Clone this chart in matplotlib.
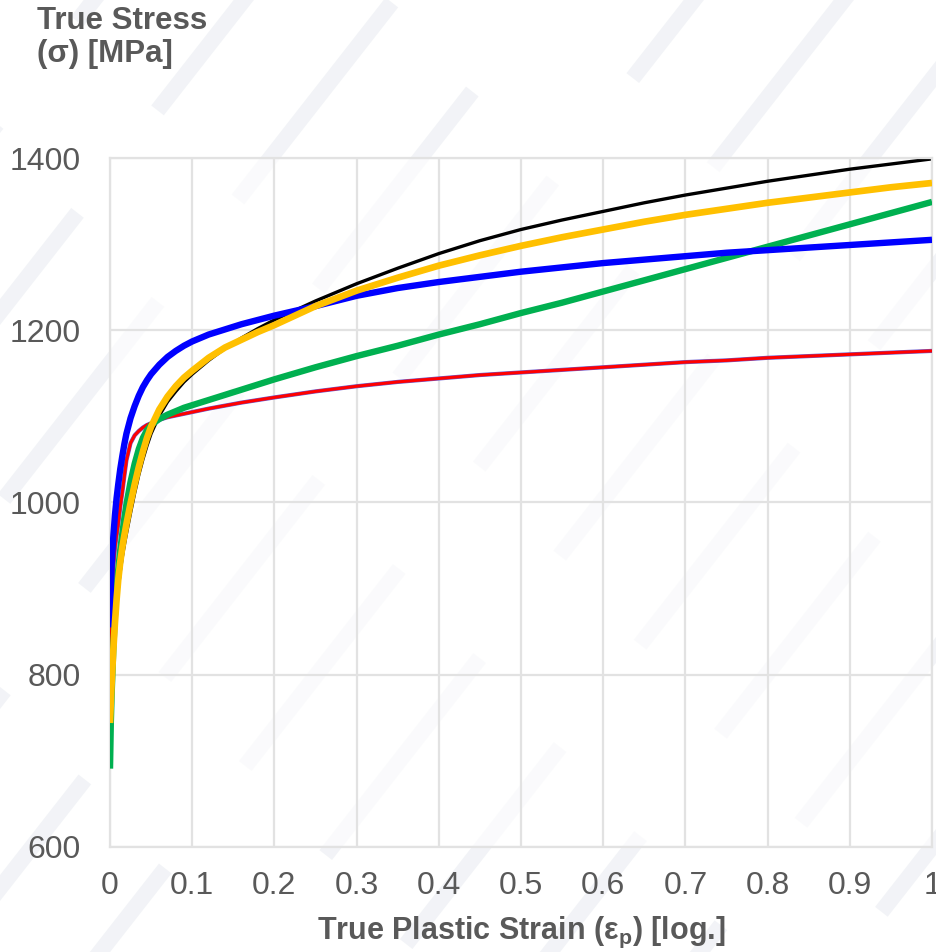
import numpy as np
import matplotlib
matplotlib.use("Agg")
import matplotlib.pyplot as plt
from matplotlib.patches import Polygon
from matplotlib import patheffects as pe

# ---- flow curves: true plastic strain [-] vs. true stress [MPa] ----
strain = [0, 0.001, 0.002, 0.004, 0.006, 0.008, 0.01, 0.0125, 0.015, 0.0175, 0.02,
          0.025, 0.03, 0.035, 0.04, 0.045, 0.05, 0.06, 0.07, 0.08, 0.09, 0.1,
          0.12, 0.14, 0.16, 0.18, 0.2, 0.25, 0.3, 0.35, 0.4, 0.45, 0.5, 0.55,
          0.6, 0.65, 0.7, 0.75, 0.8, 0.85, 0.9, 0.95, 1.0]

stress_black = [740, 762, 782, 818, 849, 876, 899, 920, 937, 951, 964,
                988, 1011, 1032, 1050, 1066, 1080, 1101, 1117, 1129, 1140, 1149,
                1165, 1179, 1191, 1202, 1212, 1234, 1254, 1272, 1289, 1304, 1317, 1328,
                1338, 1348, 1357, 1365, 1373, 1380, 1387, 1393, 1399]

stress_yellow = [744, 768, 790, 828, 860, 887, 910, 931, 948, 962, 975,
                 999, 1021, 1041, 1059, 1075, 1088, 1108, 1123, 1135, 1145, 1153,
                 1168, 1180, 1189, 1198, 1206, 1228, 1246, 1261, 1275, 1287, 1298, 1308,
                 1317, 1326, 1334, 1341, 1348, 1354, 1360, 1366, 1371]

stress_blue = [855, 900, 928, 960, 985, 1005, 1021, 1039, 1054, 1068, 1080,
               1098, 1112, 1124, 1134, 1142, 1149, 1160, 1169, 1176, 1182, 1187,
               1195, 1201, 1207, 1212, 1217, 1228, 1240, 1249, 1256, 1262, 1268, 1273,
               1278, 1282, 1286, 1290, 1293, 1296, 1299, 1302, 1305]

stress_green = [691, 745, 778, 830, 870, 900, 922, 945, 964, 982, 998,
                1024, 1045, 1062, 1075, 1084, 1090, 1097, 1102, 1106, 1110, 1113,
                1119, 1125, 1131, 1137, 1143, 1157, 1170, 1182, 1195, 1207, 1220, 1232,
                1245, 1258, 1271, 1284, 1297, 1310, 1323, 1336, 1349]

stress_red = [828, 870, 893, 925, 947, 962, 975, 995, 1012, 1031, 1049,
              1069, 1078, 1083, 1087, 1090, 1092, 1096, 1099, 1101, 1103, 1105,
              1109, 1112.5, 1116, 1119, 1122, 1129, 1135, 1140, 1144, 1148, 1151, 1154,
              1157, 1160, 1163, 1165, 1168, 1170, 1172, 1174, 1176]

x_ticks = [0, 0.1, 0.2, 0.3, 0.4, 0.5, 0.6, 0.7, 0.8, 0.9, 1]
x_tick_labels = ["0", "0.1", "0.2", "0.3", "0.4", "0.5", "0.6", "0.7", "0.8", "0.9", "1"]
y_ticks = [600, 800, 1000, 1200, 1400]
y_tick_labels = ["600", "800", "1000", "1200", "1400"]

plt.rcParams["font.family"] = ["Liberation Sans", "DejaVu Sans"]
plt.rcParams["mathtext.fontset"] = "custom"
plt.rcParams["mathtext.rm"] = "Liberation Sans:bold"
plt.rcParams["mathtext.it"] = "Liberation Sans:bold"
plt.rcParams["mathtext.bf"] = "Liberation Sans:bold"

W, H = 937, 952
fig = plt.figure(figsize=(W / 100, H / 100), dpi=100)
fig.patch.set_facecolor("white")

# faint diagonal background stripes
stripe_col = "#dde2ea"
ang = np.deg2rad(52)
d = np.array([np.cos(ang), np.sin(ang)])
nrm = np.array([-d[1], d[0]])
half_w = 8
for k, x0 in enumerate(range(-1100, 1000, 150)):
    phase = (k * 113) % 380
    t = -phase
    while t < 1700:
        t0, t1 = t, t + 250
        p0 = np.array([x0, 0.0]) + d * t0
        p1 = np.array([x0, 0.0]) + d * t1
        poly = [p0 + nrm * half_w, p1 + nrm * half_w, p1 - nrm * half_w, p0 - nrm * half_w]
        poly = [(p[0] / W, p[1] / H) for p in poly]
        fig.add_artist(Polygon(poly, closed=True, transform=fig.transFigure,
                               facecolor=stripe_col, edgecolor="none", alpha=0.38, zorder=0))
        t += 380

ax = fig.add_axes([110 / W, 1 - 847 / H, (932 - 110) / W, (847 - 158) / H])
ax.set_facecolor((1, 1, 1, 0.65))
ax.set_zorder(1)

common = dict(solid_joinstyle="round", solid_capstyle="butt")
ax.plot(strain, stress_black, color="#000000", lw=2.4, zorder=2, **common)
ax.plot(strain, stress_red, color="#FF0000", lw=2.2, zorder=3,
        path_effects=[pe.Stroke(linewidth=3.0, foreground="#6a5acd"), pe.Normal()], **common)
ax.plot(strain, stress_green, color="#00B050", lw=4.6, zorder=4, **common)
ax.plot(strain, stress_blue, color="#0000FF", lw=4.6, zorder=5, **common)
ax.plot(strain, stress_yellow, color="#FFC000", lw=4.8, zorder=6, **common)

ax.set_xlim(0, 1)
ax.set_ylim(600, 1400)
ax.set_xticks(x_ticks)
ax.set_xticklabels(x_tick_labels)
ax.set_yticks(y_ticks)
ax.set_yticklabels(y_tick_labels)
grid_col = "#e2e2e2"
ax.grid(True, color=grid_col, lw=1.6)
ax.set_axisbelow(True)
for s in ax.spines.values():
    s.set_color(grid_col)
    s.set_linewidth(1.6)
ax.tick_params(length=0, labelsize=23, labelcolor="#595959")
ax.tick_params(axis="x", pad=17)
ax.tick_params(axis="y", pad=21)

fig.text(37 / W, 1 - 6 / H, "True Stress\n(σ) [MPa]", ha="left", va="top",
         fontsize=22.5, fontweight="bold", color="#595959", linespacing=1.15)
fig.text(521 / W, 1 - 932 / H, r"True Plastic Strain (ε$_{\mathrm{p}}$) [log.]",
         ha="center", va="center", fontsize=22, fontweight="bold", color="#595959")

fig.savefig("out.png", dpi=100, facecolor="white")
